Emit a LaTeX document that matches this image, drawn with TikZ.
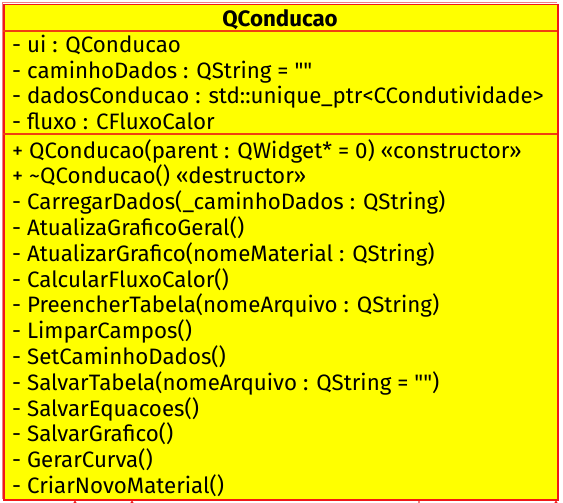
\documentclass[tikz,border=0pt]{standalone}
\usepackage{fontspec}
\setmainfont{Fira Sans}[Ligatures=TeXOff]
\usetikzlibrary{arrows.meta}
\definecolor{umlyellow}{HTML}{FFFF00}
\definecolor{umlred}{HTML}{F01818}
\definecolor{umlpink}{HTML}{F08080}
\definecolor{umlsep}{HTML}{F04010}
\begin{document}
\begin{tikzpicture}[x=1pt,y=-1pt,
  member/.style={anchor=base west,inner sep=0pt,font=\fontsize{22.3}{26}\selectfont},
  title/.style={anchor=base,inner sep=0pt,font=\fontsize{22.3}{26}\selectfont\bfseries},
  classbox/.style={draw=umlred,fill=umlyellow,line width=1.5pt,inner sep=0pt},
  sepline/.style={draw=umlsep,line width=1.2pt},
  inlet/.style={draw=umlred,line width=1.2pt,-{Triangle[width=5pt,length=4pt]}},
]
\useasboundingbox (0,0) rectangle (563,503);
\draw[umlpink,line width=1.2pt] (2.3,499) -- (2.3,2.3) -- (557,2.3);
\node[classbox,minimum width=554pt,minimum height=495pt,anchor=north west] (cls) at (3,4) {};
\draw[sepline] (3,31) -- (557,31);
\draw[sepline] (3,134) -- (557,134);
\node[title] (t) at (280,26.5) {QConducao};
\def\rowx{12}
\node[member] (a1) at (\rowx,53) {- ui : QConducao};
\node[member] (a2) at (\rowx,78.5) {- caminhoDados : QString = ""};
\node[member] (a3) at (\rowx,104) {- dadosConducao : std::unique\_ptr<CCondutividade>};
\node[member] (a4) at (\rowx,129.5) {- fluxo : CFluxoCalor};
\node[member] (m1) at (\rowx,158) {+ QConducao(parent : QWidget* = 0) «constructor»};
\node[member] (m2) at (\rowx,183.8) {+ \textasciitilde QConducao() «destructor»};
\node[member] (m3) at (\rowx,209.6) {- CarregarDados(\_caminhoDados : QString)};
\node[member] (m4) at (\rowx,235.4) {- AtualizaGraficoGeral()};
\node[member] (m5) at (\rowx,261.2) {- AtualizarGrafico(nomeMaterial : QString)};
\node[member] (m6) at (\rowx,287) {- CalcularFluxoCalor()};
\node[member] (m7) at (\rowx,312.8) {- PreencherTabela(nomeArquivo : QString)};
\node[member] (m8) at (\rowx,338.6) {- LimparCampos()};
\node[member] (m9) at (\rowx,364.4) {- SetCaminhoDados()};
\node[member] (m10) at (\rowx,390.2) {- SalvarTabela(nomeArquivo : QString = "")};
\node[member] (m11) at (\rowx,416) {- SalvarEquacoes()};
\node[member] (m12) at (\rowx,441.8) {- SalvarGrafico()};
\node[member] (m13) at (\rowx,467.6) {- GerarCurva()};
\node[member] (m14) at (\rowx,493.4) {- CriarNovoMaterial()};
\coordinate (s1) at (75,503);
\coordinate (s2) at (132,503);
\coordinate (s3) at (419,503);
\coordinate (s4) at (556,503);
\draw[inlet] (s1) -- (s1 |- cls.south);
\draw[inlet] (s2) -- (s2 |- cls.south);
\draw[umlpink,line width=1.5pt] (s3) -- (s3 |- cls.south);
\draw[inlet] (s4) -- (s4 |- cls.south);
\end{tikzpicture}
\end{document}
